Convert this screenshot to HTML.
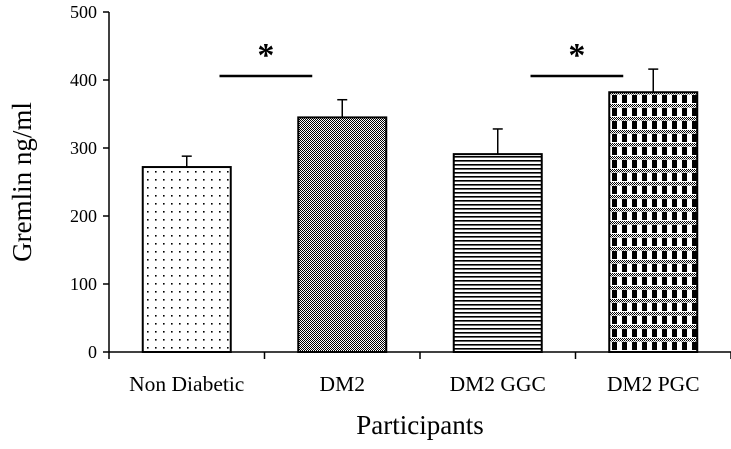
<!DOCTYPE html>
<html><head><meta charset="utf-8"><style>
body{margin:0;background:#fff;}
svg text{font-family:"Liberation Serif",serif;fill:#000;}
</style></head><body>
<svg id="chart" width="731" height="444" xmlns="http://www.w3.org/2000/svg">
<defs>
<pattern id="pDots" width="8" height="8" patternUnits="userSpaceOnUse"><rect width="8" height="8" fill="#fff"/><rect x="3" y="3" width="1.6" height="1.6" fill="#000"/></pattern>
<pattern id="pCheck" width="2" height="2" patternUnits="userSpaceOnUse"><rect width="2" height="2" fill="#fff"/><rect width="1" height="1" fill="#000"/><rect x="1" y="1" width="1" height="1" fill="#000"/></pattern>
<pattern id="pHoriz" width="4" height="4" patternUnits="userSpaceOnUse"><rect width="4" height="4" fill="#fff"/><rect y="0" width="4" height="1.6" fill="#000"/></pattern>
<pattern id="pPlaid" width="10" height="13" patternUnits="userSpaceOnUse"><rect width="10" height="13" fill="#fff"/><rect x="2" y="4" width="5" height="8" fill="#000"/><rect y="0" width="10" height="3.5" fill="url(#pCheck)"/></pattern>
</defs>
<g id="axes"></g>
<g id="bars"></g>
</svg>
<script>
const categories=["Non Diabetic","DM2","DM2 GGC","DM2 PGC"];
const values=[272,345,291,382];
const errors=[16,26,37,34];
const yTicks=[0,100,200,300,400,500];
const patterns=["pDots","pCheck","pHoriz","pPlaid"];
const sigPairs=[[0,1],[2,3]];

const NS="http://www.w3.org/2000/svg";
const x0=109,x1=731,y0=352,yScale=0.68,catW=(x1-x0)/categories.length,barW=88;
const y=v=>y0-v*yScale;
const cx=i=>x0+catW*(i+0.5);
const svg=document.getElementById('chart');
function mk(tag,attrs,parent,text){const e=document.createElementNS(NS,tag);for(const k in attrs)e.setAttribute(k,attrs[k]);if(text!==undefined)e.textContent=text;(parent||svg).appendChild(e);return e;}
const axes=document.getElementById('axes'),bars=document.getElementById('bars');

categories.forEach((c,i)=>{
  const top=y(values[i]);
  const eb=mk('line',{x1:cx(i),x2:cx(i),y1:y(values[i]+errors[i]),y2:top,stroke:'#000','stroke-width':1.5},bars);
  
  
  const cap=mk('line',{x1:cx(i)-5,x2:cx(i)+5,y1:y(values[i]+errors[i]),y2:y(values[i]+errors[i]),stroke:'#000','stroke-width':1.5},bars);
  
  
  const r=mk('rect',{x:cx(i)-barW/2,y:top,width:barW,height:y0-top,fill:'url(#'+patterns[i]+')',stroke:'#000','stroke-width':2},bars);
  
  
  const t=mk('text',{x:cx(i),y:391,'text-anchor':'middle','font-size':21.5},axes,c);
  
  
});
for(let i=0;i<=categories.length;i++){
  const tk=mk('line',{x1:x0+catW*i,x2:x0+catW*i,y1:y0,y2:y0+7,stroke:'#000','stroke-width':1.5},axes);
  
  
}
yTicks.forEach(v=>{
  const tk=mk('line',{x1:x0-6,x2:x0,y1:y(v),y2:y(v),stroke:'#000','stroke-width':1.5},axes);
  
  
  const t=mk('text',{x:97,y:y(v)+6,'text-anchor':'end','font-size':18},axes,String(v));
  
  
});
const ya=mk('line',{x1:x0,x2:x0,y1:y(500),y2:y0,stroke:'#000','stroke-width':1.5},axes);


const xa=mk('line',{x1:x0,x2:x1,y1:y0,y2:y0,stroke:'#000','stroke-width':1.5},axes);


const yt=mk('text',{x:0,y:0,'text-anchor':'middle','font-size':27,transform:'translate(31,182) rotate(-90)'},axes,'Gremlin ng/ml');


const xt=mk('text',{x:420,y:434,'text-anchor':'middle','font-size':27},axes,'Participants');


sigPairs.forEach((p,k)=>{
  const a=cx(p[0])+catW/2-45,b=cx(p[1])-30;
  const l=mk('line',{x1:a,x2:b,y1:76,y2:76,stroke:'#000','stroke-width':2.5},axes);
  
  
  const s=mk('text',{x:(a+b)/2,y:66,'text-anchor':'middle','font-size':34,'font-weight':'bold','font-family':'Liberation Sans'},axes,'*');
  
  
});
</script>
</body></html>
